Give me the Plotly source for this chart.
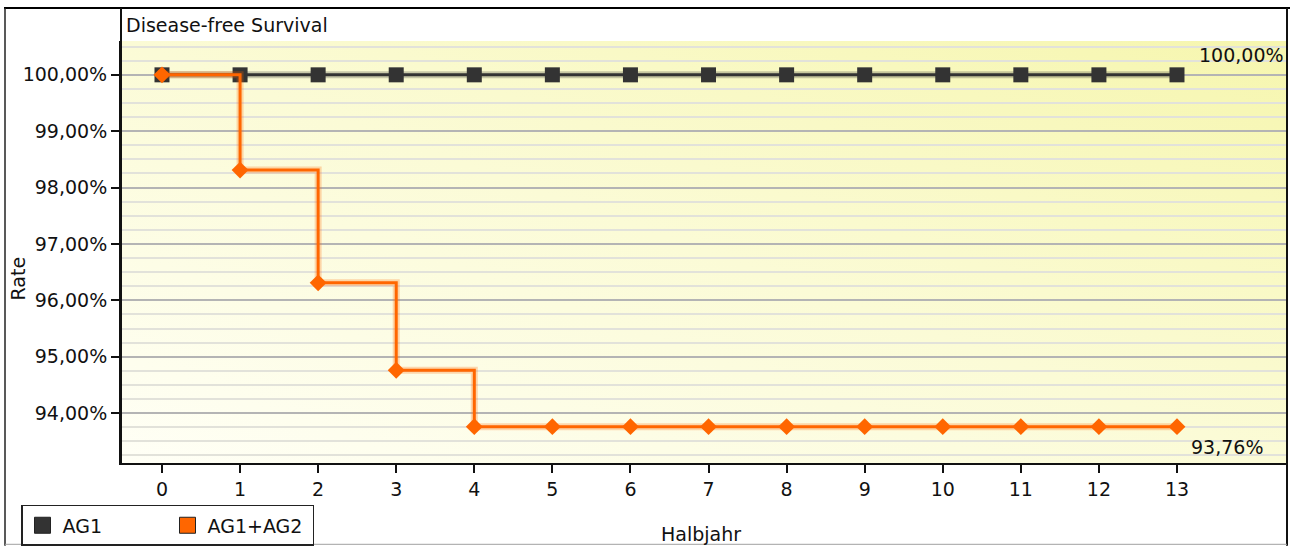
import base64
import plotly.graph_objects as go

# ---- data ----
halbjahr = [0, 1, 2, 3, 4, 5, 6, 7, 8, 9, 10, 11, 12, 13]
ag1 = [100.00] * 14
ag1_ag2 = [100.00, 98.31, 96.31, 94.76, 93.76, 93.76, 93.76, 93.76, 93.76, 93.76, 93.76, 93.76, 93.76, 93.76]
series_names = ["AG1", "AG1+AG2"]
series_colors = ["#333333", "#FF6600"]
chart_label = "Disease-free Survival"
x_title = "Halbjahr"
y_title = "Rate"

FONT = "DejaVu Sans"
FS = 19

# the capture is squeezed vertically by ~546/553, so lay out on a 553-high page
S = 553 / 546
W, H = 1294, 553
L, R = 121, 7
T = 40 * S
B = H - 463 * S
PW, PH = W - L - R, H - T - B


def px_x(p):
    return (p - L) / PW


def px_y(p):
    return (H - B - p * S) / PH


def pct(v):
    return f"{v:.2f}%".replace(".", ",")


svg = (
    '<svg xmlns="http://www.w3.org/2000/svg" viewBox="0 0 100 100" preserveAspectRatio="none">'
    '<defs><linearGradient id="g" x1="0" y1="1" x2="1" y2="0">'
    '<stop offset="0" stop-color="#FFFFF6"/>'
    '<stop offset="0.5" stop-color="#FBFBD6"/>'
    '<stop offset="1" stop-color="#F6F6AE"/>'
    '</linearGradient></defs>'
    '<rect x="0" y="0" width="100" height="100" fill="url(#g)"/></svg>'
)
bg_src = "data:image/svg+xml;base64," + base64.b64encode(svg.encode()).decode()

fig = go.Figure()

series = [(ag1, "square", 15), (ag1_ag2, "diamond", 13)]
for (vals, sym, size), name, col in zip(series, series_names, series_colors):
    # soft halo under the line
    fig.add_trace(go.Scatter(
        x=halbjahr, y=vals, mode="lines", line=dict(color=col, width=7, shape="hv"),
        opacity=0.25, showlegend=False, hoverinfo="skip"))
    fig.add_trace(go.Scatter(
        x=halbjahr, y=vals, mode="lines+markers", name=name,
        line=dict(color=col, width=3, shape="hv"),
        marker=dict(symbol=sym, size=size, color=col),
        showlegend=False))

# legend-only entries (square swatches)
for name, col in zip(series_names, series_colors):
    fig.add_trace(go.Scatter(
        x=[None], y=[None], mode="markers", name=name,
        marker=dict(symbol="square", size=20, color=col, line=dict(color="#222222", width=1))))

annotations = [
    dict(text=chart_label, xref="paper", yref="paper", x=px_x(124), y=px_y(24),
         xanchor="left", yanchor="middle", showarrow=False),
    dict(text=y_title, xref="paper", yref="paper", x=px_x(18), y=px_y(278),
         xanchor="center", yanchor="middle", textangle=-90, showarrow=False),
    dict(text=x_title, xref="paper", yref="paper", x=px_x(701), y=px_y(534),
         xanchor="center", yanchor="middle", showarrow=False),
    dict(text=pct(ag1[-1]), xref="x", yref="y", x=halbjahr[-1], y=ag1[-1],
         xanchor="left", yanchor="middle", xshift=20, yshift=20, showarrow=False),
    dict(text=pct(ag1_ag2[-1]), xref="x", yref="y", x=halbjahr[-1], y=ag1_ag2[-1],
         xanchor="left", yanchor="middle", xshift=12, yshift=-20, showarrow=False),
]

top = px_y(7)
bot = px_y(546)
shapes = [
    dict(type="line", xref="paper", yref="paper", x0=px_x(4), x1=px_x(1290), y0=top, y1=top,
         line=dict(color="#000000", width=2)),
    dict(type="line", xref="paper", yref="paper", x0=px_x(5), x1=px_x(5), y0=bot, y1=top,
         line=dict(color="#222222", width=1.5)),
    dict(type="line", xref="paper", yref="paper", x0=1, x1=1, y0=bot, y1=top,
         line=dict(color="#111111", width=2)),
    dict(type="line", xref="paper", yref="paper", x0=px_x(5), x1=1, y0=px_y(544.5), y1=px_y(544.5),
         line=dict(color="#A0A0A0", width=1)),
    dict(type="line", xref="paper", yref="paper", x0=0, x1=0, y0=0, y1=top,
         line=dict(color="#111111", width=2)),
]

fig.update_layout(
    width=W, height=H, autosize=False,
    margin=dict(l=L, r=R, t=T, b=B, pad=0),
    paper_bgcolor="white", plot_bgcolor="rgba(0,0,0,0)",
    font=dict(family=FONT, size=FS, color="#111111"),
    separators=",.",
    images=[dict(source=bg_src, xref="paper", yref="paper", x=0, y=1, sizex=1, sizey=1,
                 sizing="stretch", layer="below", xanchor="left", yanchor="top")],
    annotations=annotations,
    shapes=shapes,
    showlegend=True,
    legend=dict(orientation="h", x=px_x(21), y=px_y(505), xanchor="left", yanchor="top",
                bordercolor="#222222", borderwidth=1.5, bgcolor="white",
                font=dict(family=FONT, size=FS), entrywidth=100, itemsizing="trace"),
    xaxis=dict(range=[-0.525, 14.409], tickmode="array", tickvals=halbjahr,
               showgrid=False, zeroline=False, showline=True, linecolor="#111111", linewidth=2,
               ticks="outside", ticklen=8, tickwidth=1.5, tickcolor="#111111"),
    yaxis=dict(range=[93.115, 100.6], tickmode="linear", tick0=94, dtick=1,
               tickformat=".2f", ticksuffix="%",
               showgrid=True, gridcolor="#B4B4B4", gridwidth=1.5, zeroline=False,
               showline=True, linecolor="#111111", linewidth=2,
               ticks="outside", ticklen=8, tickwidth=1.5, tickcolor="#111111",
               minor=dict(dtick=0.25, tick0=94, showgrid=True, gridcolor="#E2E2DA", gridwidth=1.5)),
)

fig.write_html("out.html",
               config={"responsive": False, "displayModeBar": False},
               post_script="document.body.style.margin='0';document.body.style.overflow='hidden';")
